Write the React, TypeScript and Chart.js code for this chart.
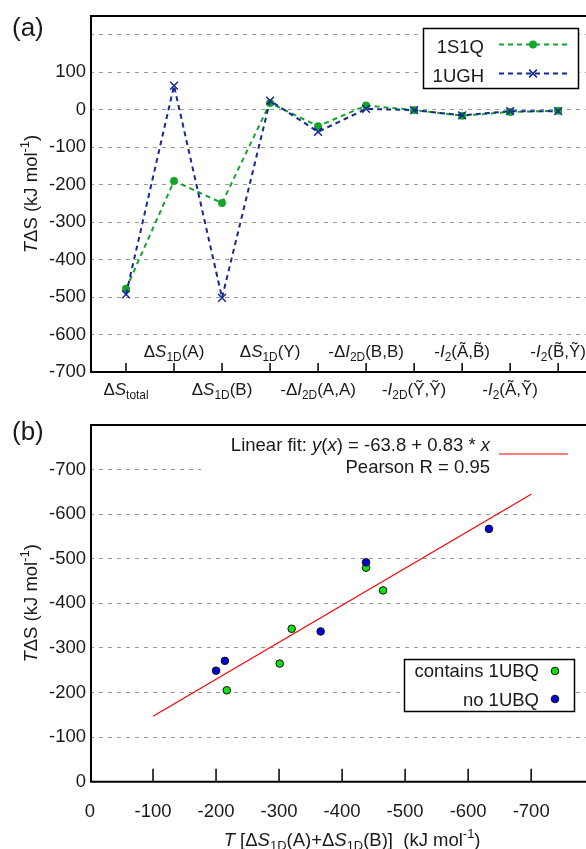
import React, { useEffect, useRef } from 'react';
import { Chart, registerables } from 'chart.js';

Chart.register(...registerables);

type Seg = { t: string; it?: boolean; sub?: boolean; sup?: boolean };

const FONT = '"Liberation Sans", Arial, sans-serif';
const FS = 18.5;
const CAT_FS = 17;
const TEXT = '#1a1a1a';
const GRID = '#999999';

// ---------- Panel (a) data ----------
const categoryLabels: Seg[][] = [
  [{ t: 'Δ' }, { t: 'S', it: true }, { t: 'total', sub: true }],
  [{ t: 'Δ' }, { t: 'S', it: true }, { t: '1D', sub: true }, { t: '(A)' }],
  [{ t: 'Δ' }, { t: 'S', it: true }, { t: '1D', sub: true }, { t: '(B)' }],
  [{ t: 'Δ' }, { t: 'S', it: true }, { t: '1D', sub: true }, { t: '(Y)' }],
  [{ t: '-Δ' }, { t: 'I', it: true }, { t: '2D', sub: true }, { t: '(A,A)' }],
  [{ t: '-Δ' }, { t: 'I', it: true }, { t: '2D', sub: true }, { t: '(B,B)' }],
  [{ t: '-' }, { t: 'I', it: true }, { t: '2D', sub: true }, { t: '(Ỹ,Ỹ)' }],
  [{ t: '-' }, { t: 'I', it: true }, { t: '2', sub: true }, { t: '(Ã,B\u0303)' }],
  [{ t: '-' }, { t: 'I', it: true }, { t: '2', sub: true }, { t: '(Ã,Ỹ)' }],
  [{ t: '-' }, { t: 'I', it: true }, { t: '2', sub: true }, { t: '(B\u0303,Ỹ)' }],
];
const values1S1Q = [-478, -190, -249, 18, -44, 11, -1, -16, -6, -3];
const values1UGH = [-493, 64, -502, 24, -59, 2, -1, -15, -4, -4];
const yTicksA = [-700, -600, -500, -400, -300, -200, -100, 0, 100, 200];
const seriesNamesA = ['1S1Q', '1UGH'];

// ---------- Panel (b) data ----------
const containsX = [-217, -301, -320, -438, -465];
const containsY = [-205, -265, -343, -480, -429];
const noUbqX = [-200, -214, -366, -438, -633];
const noUbqY = [-249, -271, -337, -492, -567];
const fitIntercept = -63.8;
const fitSlope = 0.83;
const fitFrom = -100;
const fitTo = -700;
const xTicksB = [0, -100, -200, -300, -400, -500, -600, -700];
const yTicksB = [0, -100, -200, -300, -400, -500, -600, -700, -800];
const seriesNamesB = ['contains 1UBQ', 'no 1UBQ'];

const GREEN_A = '#14a62c';
const NAVY = '#142a8c';
const GREEN_B = '#10e010';
const BLUE_B = '#0000d8';

function segFont(s: Seg, size: number) {
  const sz = s.sub || s.sup ? size * 0.7 : size;
  return `${s.it ? 'italic ' : ''}${sz}px ${FONT}`;
}
function richWidth(ctx: CanvasRenderingContext2D, segs: Seg[], size: number) {
  let w = 0;
  for (const s of segs) {
    ctx.font = segFont(s, size);
    w += ctx.measureText(s.t).width;
  }
  return w;
}
function drawRich(
  ctx: CanvasRenderingContext2D,
  segs: Seg[],
  x: number,
  y: number,
  size: number,
  align: 'left' | 'center' | 'right'
) {
  const w = richWidth(ctx, segs, size);
  let cx = align === 'center' ? x - w / 2 : align === 'right' ? x - w : x;
  ctx.textAlign = 'left';
  ctx.textBaseline = 'alphabetic';
  for (const s of segs) {
    ctx.font = segFont(s, size);
    const dy = s.sub ? size * 0.24 : s.sup ? -size * 0.42 : 0;
    ctx.fillText(s.t, cx, y + dy);
    cx += ctx.measureText(s.t).width;
  }
}

function drawFrame(ctx: CanvasRenderingContext2D, ca: any) {
  ctx.save();
  ctx.setLineDash([]);
  ctx.strokeStyle = '#000';
  ctx.lineWidth = 2;
  ctx.beginPath();
  ctx.moveTo(ca.left + 1, ca.bottom);
  ctx.lineTo(ca.left + 1, ca.top);
  ctx.lineTo(ca.right, ca.top);
  ctx.moveTo(ca.left, ca.bottom);
  ctx.lineTo(ca.right, ca.bottom);
  ctx.stroke();
  ctx.restore();
}

function drawYTitle(ctx: CanvasRenderingContext2D, x: number, y: number) {
  ctx.save();
  ctx.translate(x, y);
  ctx.rotate(-Math.PI / 2);
  ctx.fillStyle = TEXT;
  drawRich(ctx, [{ t: 'T', it: true }, { t: 'ΔS (kJ mol' }, { t: '-1', sup: true }, { t: ')' }], 0, 0, FS, 'center');
  ctx.restore();
}

function drawCross(ctx: CanvasRenderingContext2D, x: number, y: number, r: number) {
  const o = r * Math.SQRT1_2;
  ctx.beginPath();
  ctx.moveTo(x - o, y - o);
  ctx.lineTo(x + o, y + o);
  ctx.moveTo(x - o, y + o);
  ctx.lineTo(x + o, y - o);
  ctx.stroke();
}

const panelAPlugin = {
  id: 'panelA',
  afterDraw(chart: any) {
    const ctx: CanvasRenderingContext2D = chart.ctx;
    const ca = chart.chartArea;
    const xs = chart.scales.x;
    drawFrame(ctx, ca);
    ctx.save();
    // inward tick marks
    ctx.strokeStyle = '#000';
    ctx.lineWidth = 1.5;
    ctx.beginPath();
    categoryLabels.forEach((_, i) => {
      const px = xs.getPixelForValue(i);
      ctx.moveTo(px, ca.bottom);
      ctx.lineTo(px, ca.bottom - 9);
    });
    ctx.stroke();
    // category labels
    ctx.fillStyle = TEXT;
    categoryLabels.forEach((segs, i) => {
      const px = xs.getPixelForValue(i);
      const by = i % 2 === 1 ? ca.bottom - 15 : ca.bottom + 23;
      drawRich(ctx, segs, px, by, CAT_FS, 'center');
    });
    // legend
    ctx.fillStyle = '#fff';
    ctx.fillRect(423, 28, 155, 60);
    ctx.strokeStyle = '#000';
    ctx.lineWidth = 1.5;
    ctx.strokeRect(423.5, 28.5, 155, 60);
    ctx.fillStyle = TEXT;
    ctx.font = `${FS}px ${FONT}`;
    ctx.textAlign = 'right';
    ctx.textBaseline = 'alphabetic';
    ctx.fillText(seriesNamesA[0], 484, 53);
    ctx.fillText(seriesNamesA[1], 484, 82);
    ctx.lineWidth = 2;
    ctx.setLineDash([5, 4]);
    ctx.strokeStyle = GREEN_A;
    ctx.beginPath();
    ctx.moveTo(499, 44.5);
    ctx.lineTo(567, 44.5);
    ctx.stroke();
    ctx.strokeStyle = NAVY;
    ctx.beginPath();
    ctx.moveTo(499, 73.5);
    ctx.lineTo(567, 73.5);
    ctx.stroke();
    ctx.setLineDash([]);
    ctx.fillStyle = GREEN_A;
    ctx.beginPath();
    ctx.arc(533, 44.5, 4, 0, Math.PI * 2);
    ctx.fill();
    ctx.strokeStyle = NAVY;
    ctx.lineWidth = 1.5;
    drawCross(ctx, 533, 73.5, 5.5);
    // panel letter
    ctx.fillStyle = TEXT;
    ctx.font = `26px ${FONT}`;
    ctx.textAlign = 'left';
    ctx.fillText('(a)', 12, 36);
    ctx.restore();
    drawYTitle(ctx, 37, (ca.top + ca.bottom) / 2);
  },
};

const panelBPlugin = {
  id: 'panelB',
  beforeDatasetsDraw(chart: any) {
    const ctx: CanvasRenderingContext2D = chart.ctx;
    ctx.save();
    ctx.fillStyle = '#fff';
    ctx.fillRect(201, 22, 385, 64);
    ctx.restore();
  },
  afterDraw(chart: any) {
    const ctx: CanvasRenderingContext2D = chart.ctx;
    const ca = chart.chartArea;
    const xs = chart.scales.x;
    drawFrame(ctx, ca);
    ctx.save();
    ctx.strokeStyle = '#000';
    ctx.lineWidth = 1.5;
    ctx.beginPath();
    xTicksB.forEach((v) => {
      if (v === 0) return;
      const px = xs.getPixelForValue(v);
      ctx.moveTo(px, ca.bottom);
      ctx.lineTo(px, ca.bottom - 13);
    });
    ctx.stroke();
    // x tick labels
    ctx.fillStyle = TEXT;
    ctx.font = `${FS}px ${FONT}`;
    ctx.textAlign = 'center';
    ctx.textBaseline = 'alphabetic';
    xTicksB.forEach((v) => {
      ctx.fillText(String(v), xs.getPixelForValue(v), ca.bottom + 35.5);
    });
    // x title
    const xMid = (xs.getPixelForValue(0) + xs.getPixelForValue(-800)) / 2 + 10;
    drawRich(
      ctx,
      [
        { t: 'T', it: true },
        { t: ' [Δ' },
        { t: 'S', it: true },
        { t: '1D', sub: true },
        { t: '(A)+Δ' },
        { t: 'S', it: true },
        { t: '1D', sub: true },
        { t: '(B)]  (kJ mol' },
        { t: '-1', sup: true },
        { t: ')' },
      ],
      xMid,
      ca.bottom + 64,
      FS,
      'center'
    );
    // fit key
    drawRich(
      ctx,
      [
        { t: 'Linear fit: ' },
        { t: 'y', it: true },
        { t: '(' },
        { t: 'x', it: true },
        { t: ') = ' + fitIntercept.toFixed(1) + ' + ' + fitSlope.toFixed(2) + ' * ' },
        { t: 'x', it: true },
      ],
      490,
      46,
      FS,
      'right'
    );
    ctx.font = `${FS}px ${FONT}`;
    ctx.textAlign = 'right';
    ctx.fillText('Pearson R = 0.95', 490, 67.5);
    ctx.strokeStyle = '#ff0000';
    ctx.lineWidth = 1.2;
    ctx.beginPath();
    ctx.moveTo(499, 49);
    ctx.lineTo(568, 49);
    ctx.stroke();
    // legend
    ctx.fillStyle = '#fff';
    ctx.fillRect(404, 254, 170, 52);
    ctx.strokeStyle = '#000';
    ctx.lineWidth = 1.5;
    ctx.strokeRect(404.5, 254.5, 170, 52);
    ctx.fillStyle = TEXT;
    ctx.font = `${FS}px ${FONT}`;
    ctx.textAlign = 'right';
    ctx.fillText(seriesNamesB[0], 539, 272);
    ctx.fillText(seriesNamesB[1], 539, 301);
    ctx.lineWidth = 1;
    [
      [GREEN_B, 266],
      [BLUE_B, 294],
    ].forEach(([c, y]) => {
      ctx.fillStyle = c as string;
      ctx.beginPath();
      ctx.arc(555, y as number, 3.8, 0, Math.PI * 2);
      ctx.fill();
      ctx.strokeStyle = '#111';
      ctx.stroke();
    });
    // panel letter
    ctx.fillStyle = TEXT;
    ctx.font = `26px ${FONT}`;
    ctx.textAlign = 'left';
    ctx.fillText('(b)', 12, 34.5);
    ctx.restore();
    drawYTitle(ctx, 37, (ca.top + ca.bottom) / 2);
  },
};

function PanelA() {
  const ref = useRef<HTMLCanvasElement>(null);
  useEffect(() => {
    const chart = new Chart(ref.current as HTMLCanvasElement, {
      type: 'scatter',
      data: {
        datasets: [
          {
            label: seriesNamesA[1],
            data: values1UGH.map((v, i) => ({ x: i, y: v })),
            showLine: true,
            borderColor: NAVY,
            backgroundColor: NAVY,
            borderWidth: 2,
            borderDash: [5, 4],
            pointStyle: 'crossRot',
            pointRadius: 5.5,
            pointBorderWidth: 1.5,
            pointBorderColor: NAVY,
          },
          {
            label: seriesNamesA[0],
            data: values1S1Q.map((v, i) => ({ x: i, y: v })),
            showLine: true,
            borderColor: GREEN_A,
            backgroundColor: GREEN_A,
            borderWidth: 2,
            borderDash: [5, 4],
            pointStyle: 'circle',
            pointRadius: 4,
            pointBorderWidth: 0,
            pointBackgroundColor: GREEN_A,
          },
        ],
      } as any,
      options: {
        responsive: false,
        animation: false,
        devicePixelRatio: 1,
        layout: { autoPadding: false, padding: { top: 16, left: 0, right: 0, bottom: 0 } },
        plugins: { legend: { display: false }, tooltip: { enabled: false } },
        scales: {
          x: {
            type: 'linear',
            min: -0.75,
            max: 9.58,
            afterBuildTicks: (s: any) => {
              s.ticks = categoryLabels.map((_, i) => ({ value: i }));
            },
            afterFit: (s: any) => {
              s.height = 33;
            },
            ticks: { display: false },
            grid: { display: false },
            border: { display: false },
          },
          y: {
            type: 'linear',
            min: -700,
            max: 250,
            afterBuildTicks: (s: any) => {
              s.ticks = yTicksA.map((v) => ({ value: v }));
            },
            afterFit: (s: any) => {
              s.width = 90;
            },
            ticks: {
              font: { family: FONT, size: FS },
              color: TEXT,
              padding: 4,
              callback: (v: any) => (v === 200 ? '' : String(v)),
            },
            grid: { color: GRID, lineWidth: 1, drawTicks: false },
            border: { display: false, dash: [4, 5] },
          },
        },
      } as any,
      plugins: [panelAPlugin],
    });
    return () => chart.destroy();
  }, []);
  return <canvas ref={ref} width={586} height={405} style={{ display: 'block', width: 586, height: 405 }} />;
}

function PanelB() {
  const ref = useRef<HTMLCanvasElement>(null);
  useEffect(() => {
    const chart = new Chart(ref.current as HTMLCanvasElement, {
      type: 'scatter',
      data: {
        datasets: [
          {
            label: seriesNamesB[1],
            data: noUbqX.map((x, i) => ({ x, y: noUbqY[i] })),
            pointRadius: 3.8,
            pointBackgroundColor: BLUE_B,
            pointBorderColor: '#111',
            pointBorderWidth: 1,
          },
          {
            label: seriesNamesB[0],
            data: containsX.map((x, i) => ({ x, y: containsY[i] })),
            pointRadius: 3.8,
            pointBackgroundColor: GREEN_B,
            pointBorderColor: '#111',
            pointBorderWidth: 1,
          },
          {
            label: 'fit',
            data: [
              { x: fitFrom, y: fitIntercept + fitSlope * fitFrom },
              { x: fitTo, y: fitIntercept + fitSlope * fitTo },
            ],
            showLine: true,
            borderColor: '#ff0000',
            borderWidth: 1.2,
            pointRadius: 0,
          },
        ],
      } as any,
      options: {
        responsive: false,
        animation: false,
        devicePixelRatio: 1,
        layout: { autoPadding: false, padding: { top: 20, left: 0, right: 0, bottom: 0 } },
        plugins: { legend: { display: false }, tooltip: { enabled: false } },
        scales: {
          x: {
            type: 'linear',
            min: -787,
            max: 0,
            reverse: true,
            afterBuildTicks: (s: any) => {
              s.ticks = xTicksB.map((v) => ({ value: v }));
            },
            afterFit: (s: any) => {
              s.height = 67.3;
            },
            ticks: { display: false },
            grid: { display: false },
            border: { display: false },
          },
          y: {
            type: 'linear',
            min: -800,
            max: 0,
            reverse: true,
            afterBuildTicks: (s: any) => {
              s.ticks = yTicksB.map((v) => ({ value: v }));
            },
            afterFit: (s: any) => {
              s.width = 90;
            },
            ticks: {
              font: { family: FONT, size: FS },
              color: TEXT,
              padding: 4,
              callback: (v: any) => (v === -800 ? '' : String(v)),
            },
            grid: { color: GRID, lineWidth: 1, drawTicks: false },
            border: { display: false, dash: [4, 5] },
          },
        },
      } as any,
      plugins: [panelBPlugin],
    });
    return () => chart.destroy();
  }, []);
  return <canvas ref={ref} width={586} height={444} style={{ display: 'block', width: 586, height: 444 }} />;
}

export default function App() {
  return (
    <div style={{ position: 'absolute', left: 0, top: 0, width: 586, height: 849, background: '#fff', overflow: 'hidden' }}>
      <PanelA />
      <PanelB />
    </div>
  );
}
